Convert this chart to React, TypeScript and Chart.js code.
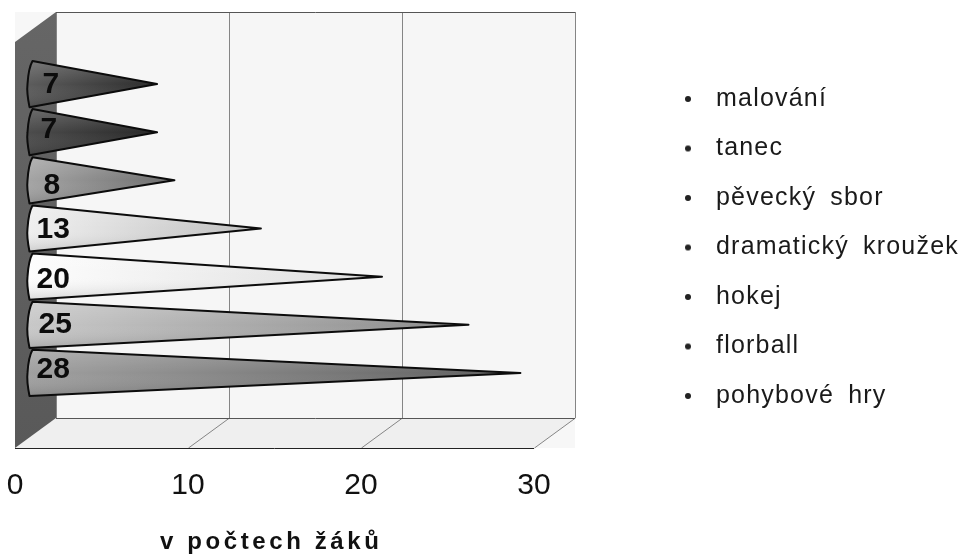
import React, { useEffect, useRef } from "react";
import { Chart, registerables } from "chart.js";

Chart.register(...registerables);

const categories = ["malování", "tanec", "pěvecký sbor", "dramatický kroužek", "hokej", "florball", "pohybové hry"];
const values = [7, 7, 8, 13, 20, 25, 28];
const gradientStart = ["#5c5c5c", "#4c4c4c", "#a4a4a4", "#efefef", "#fdfdfd", "#c8c8c8", "#a0a0a0"];
const gradientEnd = ["#2c2c2c", "#282828", "#6e6e6e", "#c0c0c0", "#dedede", "#8c8c8c", "#606060"];
const labelNudgeX = [6, 4, 7, 0, 0, 2, 0];
const labelNudgeY = [1, -2, 5, 1, 3, 0, -3];
const axisTitle = "v počtech žáků";
const xTicks = [0, 10, 20, 30];

const FONT = "'Liberation Sans', Arial, sans-serif";
const FRONT_DX = -21;
const BACK_DX = 20;
const WALL_TOP = 12;
const FLOOR_BACK = 418;
const FLOOR_FRONT = 448;
const FRONT_TOP = 42;

const wallPlugin = {
  id: "wall3d",
  beforeDatasetsDraw(chart: any) {
    const { ctx, scales } = chart;
    const x = scales.x;
    const x0 = x.getPixelForValue(0);
    const xEnd = x.getPixelForValue(30);
    ctx.save();
    ctx.fillStyle = "#f7f7f7";
    ctx.fillRect(x0 + FRONT_DX, WALL_TOP, xEnd + BACK_DX - x0 - FRONT_DX, FLOOR_FRONT - WALL_TOP);
    ctx.fillStyle = "#f6f6f6";
    ctx.fillRect(x0 + BACK_DX, WALL_TOP, xEnd - x0, FLOOR_BACK - WALL_TOP);
    ctx.fillStyle = "#efefef";
    ctx.beginPath();
    ctx.moveTo(x0 + FRONT_DX, FLOOR_FRONT);
    ctx.lineTo(x0 + BACK_DX, FLOOR_BACK);
    ctx.lineTo(xEnd + BACK_DX, FLOOR_BACK);
    ctx.lineTo(xEnd + FRONT_DX, FLOOR_FRONT);
    ctx.closePath();
    ctx.fill();
    const g = ctx.createLinearGradient(0, WALL_TOP, 0, FLOOR_FRONT);
    g.addColorStop(0, "#666666");
    g.addColorStop(1, "#595959");
    ctx.fillStyle = g;
    ctx.beginPath();
    ctx.moveTo(x0 + FRONT_DX, FRONT_TOP);
    ctx.lineTo(x0 + BACK_DX, WALL_TOP);
    ctx.lineTo(x0 + BACK_DX, FLOOR_BACK);
    ctx.lineTo(x0 + FRONT_DX, FLOOR_FRONT);
    ctx.closePath();
    ctx.fill();
    ctx.lineWidth = 1;
    xTicks.forEach((v) => {
      const px = x.getPixelForValue(v);
      ctx.strokeStyle = "#858585";
      ctx.beginPath();
      ctx.moveTo(px + BACK_DX + 0.5, WALL_TOP);
      ctx.lineTo(px + BACK_DX + 0.5, FLOOR_BACK);
      if (v > 0) {
        ctx.lineTo(px + FRONT_DX + 0.5, FLOOR_FRONT);
      }
      ctx.stroke();
    });
    ctx.strokeStyle = "#555555";
    ctx.beginPath();
    ctx.moveTo(x0 + BACK_DX, WALL_TOP + 0.5);
    ctx.lineTo(xEnd + BACK_DX, WALL_TOP + 0.5);
    ctx.moveTo(x0 + BACK_DX, FLOOR_BACK + 0.5);
    ctx.lineTo(xEnd + BACK_DX, FLOOR_BACK + 0.5);
    ctx.stroke();
    ctx.strokeStyle = "#222222";
    ctx.beginPath();
    ctx.moveTo(x0 + FRONT_DX, FLOOR_FRONT + 0.5);
    ctx.lineTo(xEnd + FRONT_DX, FLOOR_FRONT + 0.5);
    ctx.stroke();
    ctx.restore();
  },
};

const conePlugin = {
  id: "cones",
  afterDatasetsDraw(chart: any) {
    const { ctx } = chart;
    const meta = chart.getDatasetMeta(0);
    ctx.save();
    meta.data.forEach((bar: any, i: number) => {
      const h = bar.height;
      const top = bar.y - h / 2;
      const bottom = bar.y + h / 2;
      const baseX = bar.base;
      const path = () => {
        ctx.beginPath();
        ctx.moveTo(baseX - 4, top);
        ctx.lineTo(bar.x, bar.y);
        ctx.lineTo(baseX - 7, bottom);
        ctx.quadraticCurveTo(baseX - 10, bar.y + 8, baseX - 9, bar.y);
        ctx.quadraticCurveTo(baseX - 8, top + 7, baseX - 4, top);
        ctx.closePath();
      };
      const g = ctx.createLinearGradient(baseX - 8, 0, bar.x, 0);
      g.addColorStop(0, gradientStart[i]);
      g.addColorStop(1, gradientEnd[i]);
      path();
      ctx.fillStyle = g;
      ctx.fill();
      const shade = ctx.createLinearGradient(0, top, 0, bottom);
      shade.addColorStop(0, "rgba(255,255,255,0.18)");
      shade.addColorStop(0.5, "rgba(255,255,255,0)");
      shade.addColorStop(1, "rgba(0,0,0,0.14)");
      ctx.fillStyle = shade;
      ctx.fill();
      ctx.strokeStyle = "#0c0c0c";
      ctx.lineWidth = 2;
      ctx.lineJoin = "round";
      ctx.stroke();
      ctx.fillStyle = "#0c0c0c";
      ctx.font = `bold 30px ${FONT}`;
      ctx.textAlign = "left";
      ctx.textBaseline = "middle";
      ctx.fillText(String(values[i]), baseX + labelNudgeX[i], bar.y + labelNudgeY[i]);
    });
    ctx.restore();
  },
};

const titlePlugin = {
  id: "xTitleText",
  afterDraw(chart: any) {
    const { ctx } = chart;
    ctx.save();
    ctx.fillStyle = "#111111";
    ctx.font = `bold 24px ${FONT}`;
    ctx.textAlign = "left";
    ctx.textBaseline = "alphabetic";
    (ctx as any).letterSpacing = "3.6px";
    ctx.fillText(axisTitle, 160, 549);
    ctx.restore();
  },
};

const legendPlacer = {
  id: "legendPlacer",
  afterLayout(chart: any) {
    const l = chart.legend;
    l.left = 648;
    l.top = 62;
    l.right = 960;
    l.bottom = 554;
    l.width = 312;
    l.height = 492;
    if (!l.__spaced) {
      const draw = l.draw.bind(l);
      l.draw = (...args: any[]) => {
        const c = chart.ctx as any;
        c.letterSpacing = "1.2px";
        c.wordSpacing = "6px";
        draw(...args);
        c.letterSpacing = "0px";
        c.wordSpacing = "0px";
      };
      l.__spaced = true;
    }
  },
};

function makeBullet() {
  const c = document.createElement("canvas");
  c.width = 8;
  c.height = 8;
  const cx = c.getContext("2d")!;
  cx.fillStyle = "#222222";
  cx.beginPath();
  cx.arc(4, 4, 3, 0, Math.PI * 2);
  cx.fill();
  return c;
}

export default function App() {
  const ref = useRef<HTMLCanvasElement>(null);
  useEffect(() => {
    document.body.style.margin = "0";
    const bullet = makeBullet();
    const chart = new Chart(ref.current!, {
      type: "bar",
      data: {
        labels: categories,
        datasets: [
          {
            label: axisTitle,
            data: values,
            backgroundColor: "rgba(0,0,0,0)",
            borderWidth: 0,
            categoryPercentage: 1,
            barPercentage: 0.96,
          },
        ],
      },
      plugins: [legendPlacer, wallPlugin, conePlugin, titlePlugin],
      options: {
        indexAxis: "y",
        responsive: false,
        animation: false,
        layout: { padding: { left: 36, top: 60, right: 405, bottom: 50 } },
        scales: {
          x: {
            type: "linear",
            min: 0,
            max: 30,
            grid: { display: true, drawOnChartArea: false, drawTicks: true, tickLength: 71, color: "rgba(0,0,0,0)" },
            border: { display: false },
            ticks: {
              stepSize: 10,
              padding: 0,
              labelOffset: -21,
              maxRotation: 0,
              autoSkip: false,
              color: "#111111",
              font: { family: FONT, size: 30 },
            },
          },
          y: { type: "category", display: false },
        },
        plugins: {
          title: { display: false },
          tooltip: { enabled: false },
          legend: {
            display: true,
            position: "chartArea",
            align: "start",
            labels: {
              usePointStyle: true,
              pointStyleWidth: 31,
              padding: 24.5,
              color: "#1a1a1a",
              font: { family: FONT, size: 25 },
              generateLabels: () =>
                categories.map((text, i) => ({
                  text,
                  index: i,
                  pointStyle: bullet,
                  fillStyle: "#222",
                  strokeStyle: "#222",
                  lineWidth: 0,
                  hidden: false,
                  fontColor: "#1a1a1a",
                })),
            },
          },
        },
      } as any,
    });
    return () => chart.destroy();
  }, []);
  return <canvas ref={ref} width={960} height={554} style={{ display: "block" }} />;
}
